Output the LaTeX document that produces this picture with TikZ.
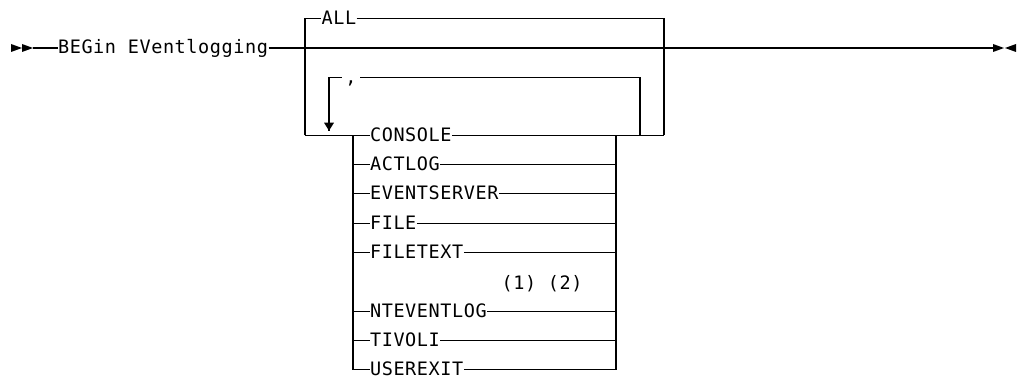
\documentclass[tikz,border=0pt]{standalone}
\usepackage{fontspec}
\newfontfamily\diafont[LetterSpace=3.2]{DejaVu Sans Mono}
\begin{document}
\begin{tikzpicture}[x=1pt,y=-1pt, line width=1.1pt,
  lbl/.style={font=\diafont\fontsize{18.5}{20}\selectfont, inner sep=0pt, text height=12pt, text depth=0pt, anchor=west},
  tri/.style={fill=black, draw=none}]
\useasboundingbox (0,0) rectangle (1017,377);
% main line
\coordinate (s0) at (33,48);
\coordinate (e0) at (993,48);
\node[lbl] (cmd) at (57.5,48) {BEGin EVentlogging};
\draw (s0) -- (cmd.west);
\draw (cmd.east) -- (e0);
\fill[tri] (11,44) -- (22,48) -- (11,52) -- cycle;
\fill[tri] (22,44) -- (33,48) -- (22,52) -- cycle;
\fill[tri] (993,44) -- (1004,48) -- (993,52) -- cycle;
\fill[tri] (1016,44) -- (1005,48) -- (1016,52) -- cycle;
% outer box with ALL
\coordinate (otl) at (305,18.5);
\coordinate (otr) at (664,18.5);
\coordinate (obl) at (305,135.3);
\coordinate (obr) at (664,135.3);
\node[lbl] (all) at (321,18.5) {ALL};
\draw (obl) -- (otl) -- (all.west);
\draw (all.east) -- (otr) -- (obr);
% choices
\foreach \itm/\k in {CONSOLE/0, ACTLOG/1, EVENTSERVER/2, FILE/3, FILETEXT/4, NTEVENTLOG/6, TIVOLI/7, USEREXIT/8}{
  \coordinate (cl\k) at (353,{135.3+\k*29.3});
  \coordinate (cr\k) at (616,{135.3+\k*29.3});
  \node[lbl] (c\k) at (369.5,{135.3+\k*29.3}) {\itm};
  \draw (cl\k) -- (c\k.west);
  \draw (c\k.east) -- (cr\k);
}
\draw (cl0) -- (cl8);
\draw (cr0) -- (cr8);
\draw (obl) -- (c0.west);
\draw (c0.east) -- (obr);
\node[lbl, anchor=base west] (note) at (501,289) {(1) (2)};
% repeat loop
\coordinate (ltip) at (329,130.7);
\coordinate (ltl) at (329,77.3);
\coordinate (ltr) at (640,77.3);
\coordinate (lbr) at (640,135.3);
\node[lbl, anchor=center, inner xsep=3pt] (comma) at (351,77.3) {,};
\draw (ltip) -- (ltl) -- (comma.west);
\draw (comma.east) -- (ltr) -- (lbr);
\fill[tri] (324,122.7) -- (334,122.7) -- (ltip) -- cycle;
\end{tikzpicture}
\end{document}
